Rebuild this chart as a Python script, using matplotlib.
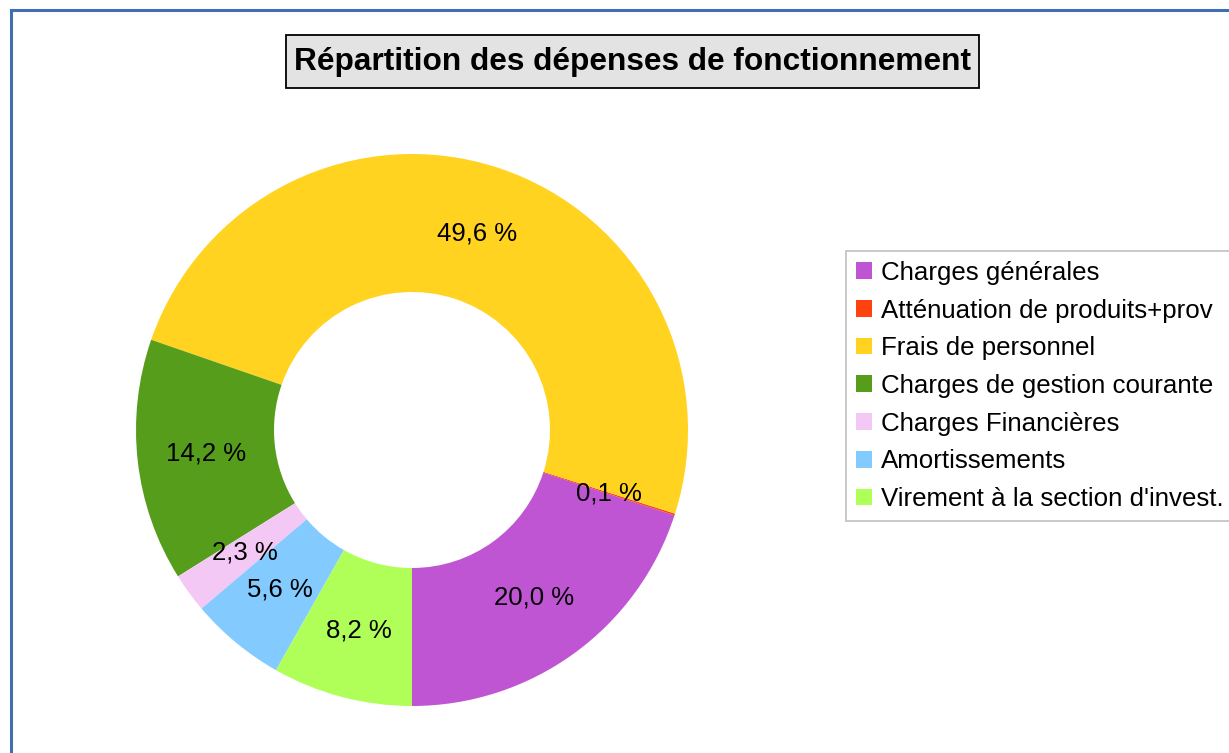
import matplotlib
matplotlib.use("Agg")
import matplotlib.pyplot as plt
from matplotlib.lines import Line2D
from matplotlib.patches import Patch, Rectangle

categories = ["Charges générales", "Atténuation de produits+prov", "Frais de personnel",
              "Charges de gestion courante", "Charges Financières", "Amortissements",
              "Virement à la section d'invest."]
values = [20.0, 0.1, 49.6, 14.2, 2.3, 5.6, 8.2]
colors = ["#c055d3", "#ff420e", "#ffd320", "#579d1c", "#f3c8f5", "#83caff", "#b0ff59"]
title = "Répartition des dépenses de fonctionnement"

plt.rcParams['font.family'] = ['Liberation Sans', 'DejaVu Sans']

W, H = 1229, 753
fig = plt.figure(figsize=(W / 100, H / 100), dpi=100)
fig.patch.set_facecolor("white")

# pie axes
cx, cy, r = 412, 430, 276
ax = fig.add_axes([(cx - r) / W, (H - cy - r) / H, 2 * r / W, 2 * r / H])
wedges, texts, autotexts = ax.pie(
    values, colors=colors, startangle=-90, counterclock=True,
    wedgeprops=dict(width=0.5, linewidth=0),
    autopct=lambda p: f"{p:.1f} %".replace(".", ","), pctdistance=0.75,
    textprops=dict(fontsize=18.5, color="black"), radius=1.0)
ax.set_xlim(-1, 1)
ax.set_ylim(-1, 1)
ax.set_aspect("equal")
ax.axis("off")

# title box
fig.add_artist(Rectangle((285.5 / W, 1 - 88 / H), 693 / W, 53 / H, transform=fig.transFigure,
                         facecolor="#e3e3e3", edgecolor="black", linewidth=1.3, zorder=1))
fig.text(632 / W, 1 - 62 / H, title, ha="center", va="center", fontsize=22.8, fontweight="bold",
         zorder=2)

# legend
handles = [Patch(facecolor=c, edgecolor="none") for c in colors]
leg = fig.legend(handles, categories, loc="upper left", bbox_to_anchor=(846 / W, 1 - 251 / H),
                 fontsize=18.6, frameon=True, fancybox=False, edgecolor="#b0b0b0",
                 handlelength=0.62, handleheight=0.62, handletextpad=0.36, labelspacing=0.53,
                 borderpad=0.38, borderaxespad=0)
leg.get_frame().set_linewidth(1.2)

# figure border (left and top)
fig.add_artist(Line2D([10.5 / W, 10.5 / W], [0, 1 - 9.5 / H], color="#3f6fb2", linewidth=2.2,
                      transform=fig.transFigure))
fig.add_artist(Line2D([10.5 / W, 1], [1 - 9.5 / H, 1 - 9.5 / H], color="#3f6fb2", linewidth=2.2,
                      transform=fig.transFigure))

fig.savefig("out.png", dpi=100)
